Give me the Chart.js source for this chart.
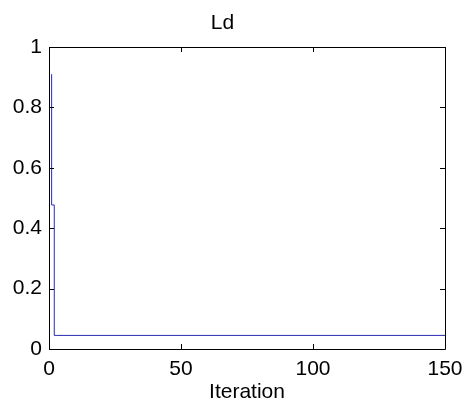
<!DOCTYPE html>
<html>
<head>
<meta charset="utf-8">
<script src="https://cdn.jsdelivr.net/npm/chart.js@4"></script>
<style>
  html, body { margin: 0; padding: 0; background: #fff; }
  #c { display: block; }
</style>
</head>
<body>
<canvas id="c" width="464" height="401"></canvas>
<script>
// Data (stepped line: value changes only at these iterations)
const iterations = [1, 2, 3, 150];
const ldValues = [0.91, 0.477, 0.045, 0.045];
const xTicks = [0, 50, 100, 150];
const yTicks = [0, 0.2, 0.4, 0.6, 0.8, 1];
const titleText = 'Ld';
const xLabel = 'Iteration';

const FONT = '"Liberation Sans", Arial, sans-serif';

const boxPlugin = {
  id: 'matlabBox',
  afterDatasetsDraw(chart) {
    const { ctx, chartArea: a, scales } = chart;
    ctx.save();
    ctx.strokeStyle = '#000';
    ctx.lineWidth = 1;
    ctx.beginPath();
    ctx.rect(Math.round(a.left) + 0.5, Math.round(a.top) + 0.5,
             Math.round(a.right - a.left), Math.round(a.bottom - a.top));
    ctx.stroke();
    const tl = 5;
    ctx.beginPath();
    xTicks.forEach(v => {
      const x = Math.round(scales.x.getPixelForValue(v)) + 0.5;
      ctx.moveTo(x, a.bottom); ctx.lineTo(x, a.bottom - tl);
      ctx.moveTo(x, a.top); ctx.lineTo(x, a.top + tl);
    });
    yTicks.forEach(v => {
      const y = Math.round(scales.y.getPixelForValue(v)) + 0.5;
      ctx.moveTo(a.left, y); ctx.lineTo(a.left + tl, y);
      ctx.moveTo(a.right, y); ctx.lineTo(a.right - tl, y);
    });
    ctx.stroke();
    ctx.restore();
  }
};

new Chart(document.getElementById('c'), {
  type: 'line',
  data: {
    datasets: [{
      data: iterations.map((it, i) => ({ x: it, y: ldValues[i] })),
      borderColor: '#2a2ab0',
      borderWidth: 1,
      pointRadius: 0,
      stepped: 'after',
      fill: false
    }]
  },
  options: {
    responsive: false,
    animation: false,
    devicePixelRatio: 1,
    layout: { padding: { left: 0, right: 19, top: 0, bottom: 0 } },
    plugins: {
      legend: { display: false },
      tooltip: { enabled: false },
      title: {
        display: true,
        text: titleText,
        color: '#000',
        font: { family: FONT, size: 21, weight: 'normal', lineHeight: 1.2 },
        padding: { top: 10.8, bottom: 11 }
      }
    },
    scales: {
      x: {
        type: 'linear',
        min: 0, max: 150,
        afterBuildTicks(scale) { scale.ticks = xTicks.map(v => ({ value: v })); },
        afterFit(scale) {
          scale.height = 52;
          scale.paddingLeft = 0; scale.paddingRight = 0;
        },
        grid: { display: false, drawTicks: false },
        border: { display: false },
        ticks: { color: '#000', padding: 8, maxRotation: 0,
                 callback: v => String(v),
                 font: { family: FONT, size: 21 } },
        title: { display: true, text: xLabel, color: '#000', padding: { top: 0, bottom: -2 },
                 font: { family: FONT, size: 21, lineHeight: 1 } }
      },
      y: {
        type: 'linear',
        min: 0, max: 1,
        afterBuildTicks(scale) { scale.ticks = yTicks.map(v => ({ value: v })); },
        afterFit(scale) {
          scale.width = 49;
          scale.paddingTop = 0; scale.paddingBottom = 0;
        },
        grid: { display: false, drawTicks: false },
        border: { display: false },
        ticks: { color: '#000', padding: 7,
                 callback: v => String(v),
                 font: { family: FONT, size: 21 } }
      }
    }
  },
  plugins: [boxPlugin]
});
</script>
</body>
</html>
